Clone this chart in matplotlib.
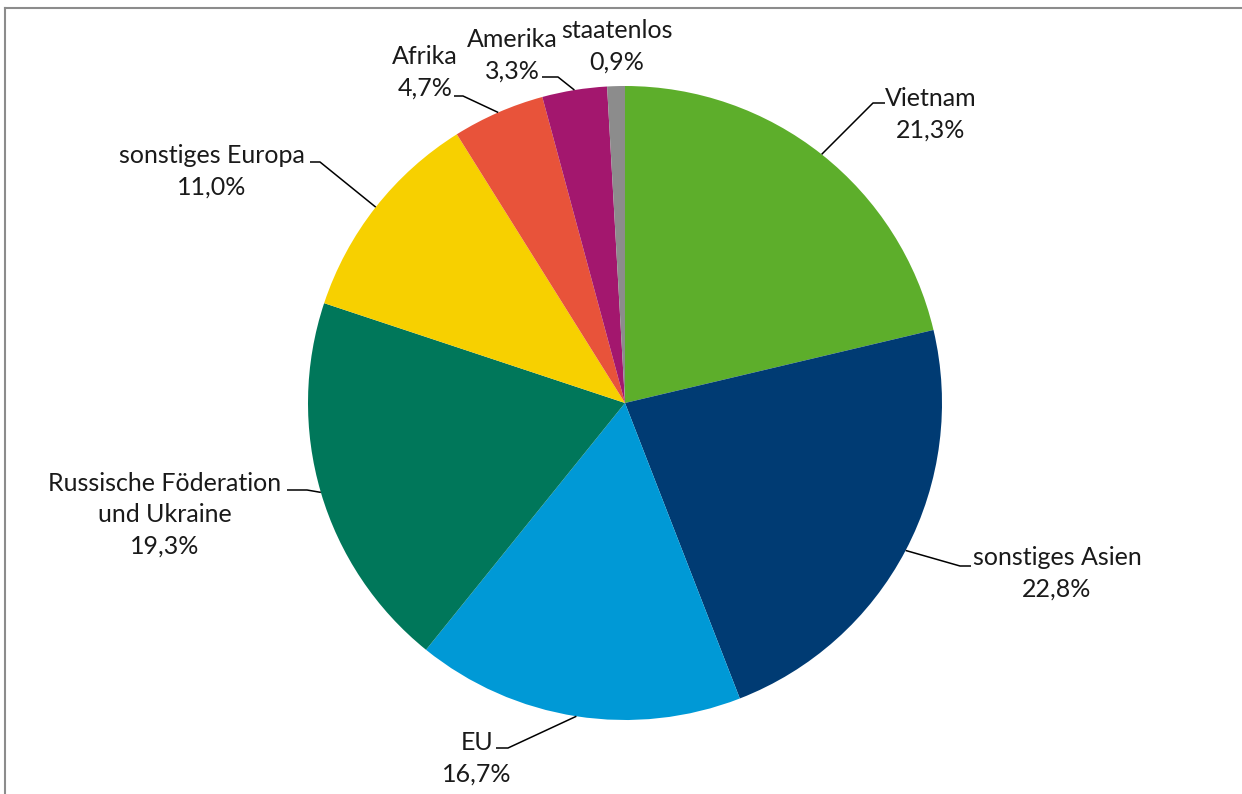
"""
plot.py
pie chart - Staatsangehoerigkeit nach Herkunftsregion
"""

import numpy as np
import matplotlib
matplotlib.use('Agg')
import matplotlib.pyplot as plt
from matplotlib.lines import Line2D

plt.rcParams['font.family'] = ['Lato', 'DejaVu Sans']

## data
REGIONS = ['Vietnam', 'sonstiges Asien', 'EU', 'Russische Föderation\nund Ukraine',
           'sonstiges Europa', 'Afrika', 'Amerika', 'staatenlos']
SHARES = [21.3, 22.8, 16.7, 19.3, 11.0, 4.7, 3.3, 0.9]
COLORS = ['#5dae2b', '#003b73', '#0099d6', '#00775a',
          '#f7d000', '#e8533a', '#a3176e', '#8c8c8c']

## layout (pixel coords, origin top-left)
W, H = 1242, 794
CX, CY, R = 625, 403, 317
TEXT_POS = [(931, 114), (1057, 573), (477, 758), (165, 515),
            (212, 171), (425, 72), (512, 55), (617, 46)]
# elbow + end of leader line, None = no leader
LEADERS = [[(873, 103), (885, 103)],
           [(960, 566), (971, 566)],
           [(508, 748), (496, 748)],
           [(307, 490), (287, 490)],
           [(320, 162), (310, 162)],
           [(463, 96), (454, 96)],
           [(558, 77), (542, 77)],
           None]


def fy(y):
    return H - y


def plot_pie():
    fig = plt.figure(figsize=(W / 100, H / 100), dpi=100)
    ax = fig.add_axes([0, 0, 1, 1])
    ax.set_xlim(0, W)
    ax.set_ylim(0, H)
    ax.set_aspect('equal')
    ax.axis('off')

    wedges, _ = ax.pie(SHARES, colors=COLORS, startangle=90, counterclock=False,
                       radius=R, center=(CX, fy(CY)),
                       wedgeprops=dict(linewidth=0))
    ax.set_xlim(0, W)
    ax.set_ylim(0, H)

    for i, w in enumerate(wedges):
        mid = np.deg2rad((w.theta1 + w.theta2) / 2.0)
        ex = CX + R * np.cos(mid)
        ey = fy(CY) + R * np.sin(mid)
        tx, ty = TEXT_POS[i]
        txt = '{}\n{}%'.format(REGIONS[i], ('%.1f' % SHARES[i]).replace('.', ','))
        ax.text(tx, fy(ty), txt, ha='center', va='center', multialignment='center',
                fontsize=18, color='#1a1a1a', linespacing=1.45)
        if LEADERS[i] is not None:
            xs = [ex] + [p[0] for p in LEADERS[i]]
            ys = [ey] + [fy(p[1]) for p in LEADERS[i]]
            ax.plot(xs, ys, color='black', linewidth=1.1, solid_capstyle='butt')

    # chart frame (cut off at right/bottom)
    fig.add_artist(Line2D([5 / W, 5 / W], [0, 1 - 8 / H], transform=fig.transFigure,
                          color='#8c8c8c', linewidth=1.5))
    fig.add_artist(Line2D([5 / W, 1], [1 - 8 / H, 1 - 8 / H], transform=fig.transFigure,
                          color='#8c8c8c', linewidth=1.5))

    fig.savefig('out.png', dpi=100, facecolor='white')


if __name__ == '__main__':
    plot_pie()
